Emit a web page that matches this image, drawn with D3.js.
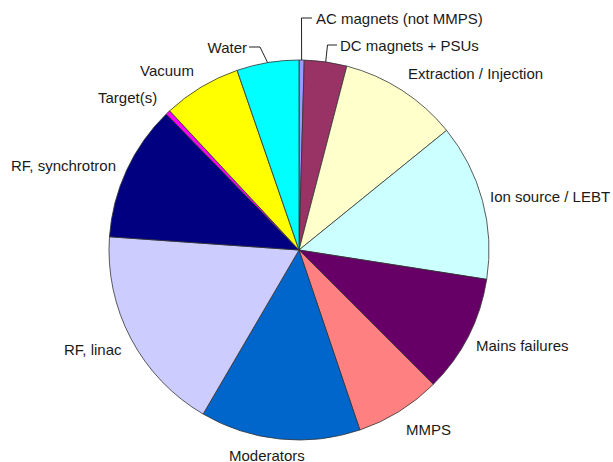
<!DOCTYPE html>
<html>
<head>
<meta charset="utf-8">
<script src="https://cdn.jsdelivr.net/npm/d3@7"></script>
<style>
  html, body { margin: 0; padding: 0; background: #ffffff; }
  svg text { font-family: "Liberation Sans", Arial, sans-serif; font-size: 15px; fill: #1a1a1a; }
</style>
</head>
<body>
<div id="chart"></div>
<script>
// share of downtime per system, in percent, clockwise from 12 o'clock
const categories = [
    "AC magnets (not MMPS)", "DC magnets + PSUs", "Extraction / Injection",
    "Ion source / LEBT", "Mains failures", "MMPS", "Moderators",
    "RF, linac", "RF, synchrotron", "Target(s)", "Vacuum", "Water"
];
const values = [0.44, 3.61, 10.11, 13.31, 10.03, 7.31, 13.61, 17.69, 11.58, 0.39, 6.64, 5.28];
const colors = [
    "#9999ff", "#993366", "#ffffcc", "#ccffff", "#660066", "#ff8080",
    "#0066cc", "#ccccff", "#000080", "#ff00ff", "#ffff00", "#00ffff"
];

// label placement (layout only)
const labelLayout = {
    "AC magnets (not MMPS)": { x: 316, y: 24, anchor: "start", leader: [[301.5, 18], [312, 18]] },
    "DC magnets + PSUs": { x: 340, y: 50.5, anchor: "start", leader: [[327.5, 45], [337, 45]] },
    "Extraction / Injection": { x: 408, y: 79, anchor: "start" },
    "Ion source / LEBT": { x: 490, y: 202, anchor: "start" },
    "Mains failures": { x: 476, y: 351, anchor: "start" },
    "MMPS": { x: 406, y: 434.5, anchor: "start" },
    "Moderators": { x: 229, y: 460.5, anchor: "start" },
    "RF, linac": { x: 64, y: 354.5, anchor: "start" },
    "RF, synchrotron": { x: 11, y: 170.5, anchor: "start" },
    "Target(s)": { x: 98, y: 103, anchor: "start" },
    "Vacuum": { x: 140, y: 75.5, anchor: "start" },
    "Water": { x: 247, y: 52.5, anchor: "end", leader: [[260, 47], [249, 47]] }
};

const width = 613, height = 462;
const cx = 299, cy = 250, radius = 190;

const svg = d3.select("#chart").append("svg")
    .attr("width", width)
    .attr("height", height);

const data = categories.map((name, i) => ({ name, value: values[i], color: colors[i] }));

const pie = d3.pie()
    .value(d => d.value)
    .sort(null);

const arc = d3.arc()
    .innerRadius(0)
    .outerRadius(radius);

const arcs = pie(data);

const g = svg.append("g").attr("transform", `translate(${cx},${cy})`);

g.selectAll("path.slice")
    .data(arcs)
    .join("path")
    .attr("class", "slice")
    .attr("d", arc)
    .attr("fill", d => d.data.color)
    .attr("stroke", "#333333")
    .attr("stroke-width", 0.8)
    .attr("stroke-linejoin", "round");

// leader lines from slice edge to label
const line = d3.line();
arcs.forEach(a => {
    const lay = labelLayout[a.data.name];
    if (!lay.leader) return;
    const mid = (a.startAngle + a.endAngle) / 2;
    const start = [cx + radius * Math.sin(mid), cy - radius * Math.cos(mid)];
    svg.append("path")
        .attr("d", line([start, ...lay.leader]))
        .attr("fill", "none")
        .attr("stroke", "#222222")
        .attr("stroke-width", 1);
});

svg.selectAll("text.label")
    .data(arcs)
    .join("text")
    .attr("class", "label")
    .attr("x", d => labelLayout[d.data.name].x)
    .attr("y", d => labelLayout[d.data.name].y)
    .attr("text-anchor", d => labelLayout[d.data.name].anchor)
    .text(d => d.data.name);
</script>
</body>
</html>
